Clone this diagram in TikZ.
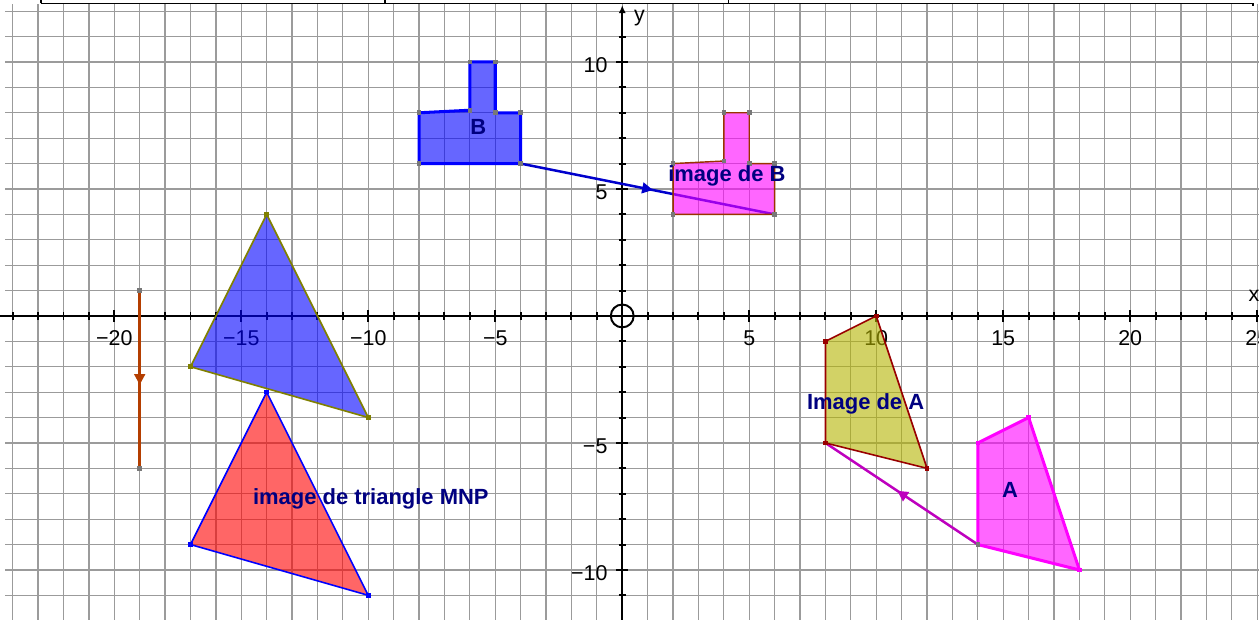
\documentclass[tikz,border=0pt]{standalone}
\usepackage{fontspec}
\setmainfont{Liberation Sans}
\usetikzlibrary{arrows.meta,decorations.markings}

\definecolor{luoi}{RGB}{155,155,155}
\definecolor{xanhdam}{RGB}{0,0,128}
\definecolor{diemxam}{RGB}{120,120,120}
\definecolor{oliu}{RGB}{128,128,0}
\definecolor{dodam}{RGB}{153,0,0}
\definecolor{nau}{RGB}{153,51,0}
\definecolor{camnau}{RGB}{180,62,0}
\definecolor{vecxanh}{RGB}{0,0,204}
\definecolor{vectim}{RGB}{190,0,190}
\definecolor{vangoliu}{RGB}{180,180,0}
\definecolor{hong}{RGB}{255,0,255}
\definecolor{xanh}{RGB}{0,0,255}
\definecolor{do}{RGB}{255,0,0}

\tikzset{
  truc/.style={line width=1.1pt},
  vecto/.style={line width=1.4pt, postaction={decorate},
    decoration={markings, mark=at position 0.5 with {\arrow[xshift=3pt]{Triangle[length=6pt,width=6pt]}}}},
  nhan/.style={font=\fontsize{12.3}{14}\selectfont\bfseries, text=xanhdam, inner sep=0pt},
  so/.style={font=\fontsize{12}{14}\selectfont, inner sep=0pt},
}

\begin{document}
\begin{tikzpicture}[x=0.5cm, y=0.5cm]
    \useasboundingbox (-24.5,-11.97) rectangle (25.07,12.44);
    \clip (-24.5,-11.97) rectangle (25.07,12.44);

    % Định nghĩa các điểm
    \coordinate (B1) at (-8,6);
    \coordinate (B2) at (-4,6);
    \coordinate (B3) at (-4,8);
    \coordinate (B4) at (-5,8);
    \coordinate (B5) at (-5,10);
    \coordinate (B6) at (-6,10);
    \coordinate (B7) at (-6,8.1);
    \coordinate (B8) at (-8,8);
    \coordinate (C1) at (2,4);
    \coordinate (C2) at (6,4);
    \coordinate (C3) at (6,6);
    \coordinate (C4) at (5,6);
    \coordinate (C5) at (5,8);
    \coordinate (C6) at (4,8);
    \coordinate (C7) at (4,6.1);
    \coordinate (C8) at (2,6);
    \coordinate (M) at (-14,4);
    \coordinate (N) at (-17,-2);
    \coordinate (P) at (-10,-4);
    \coordinate (Mi) at (-14,-3);
    \coordinate (Ni) at (-17,-9);
    \coordinate (Pi) at (-10,-11);
    \coordinate (A1) at (14,-5);
    \coordinate (A2) at (16,-4);
    \coordinate (A3) at (18,-10);
    \coordinate (A4) at (14,-9);
    \coordinate (D1) at (8,-1);
    \coordinate (D2) at (10,0);
    \coordinate (D3) at (12,-6);
    \coordinate (D4) at (8,-5);
    \coordinate (U) at (-19,1);
    \coordinate (V) at (-19,-6);

    % 1. Lưới ô vuông và thanh phía trên
    \foreach \x in {-24,...,25}
        \draw[luoi, line width=0.7pt] (\x,-12) -- (\x,12.3);
    \foreach \y in {-12,...,12}
        \draw[luoi, line width=0.7pt] (-24.3,\y) -- (25.1,\y);
    \draw[line width=0.8pt] (-22.89,12.31) -- (24.83,12.31) -- (24.83,12.2);
    \foreach \x in {-22.89,-9.34,4.19}
        \draw[line width=0.8pt] (\x,12.31) -- (\x,12.5);

    % 2. Hệ trục tọa độ
    \draw[truc, -{Latex[length=4.5pt,width=4pt]}] (-24.6,0) -- (25.4,0);
    \draw[truc, -{Latex[length=4.5pt,width=4pt]}] (0,-12.1) -- (0,12.24);
    \foreach \x in {-24,...,25}
        \draw[truc] (\x,-0.14) -- (\x,0.14);
    \foreach \x in {-20,-15,...,25}
        \draw[truc] (\x,-0.24) -- (\x,0.24);
    \foreach \y in {-11,...,11}
        \draw[truc] (-0.14,\y) -- (0.14,\y);
    \foreach \y in {-10,-5,5,10}
        \draw[truc] (-0.24,\y) -- (0.24,\y);
    \draw[truc] (0,0) circle (0.45);
    \foreach \x/\t in {-20/−20,-15/−15,-10/−10,-5/−5,5/5,10/10,15/15,20/20,25/25}
        \node[so, anchor=base] (sox\x) at (\x,-1.17) {\t};
    \foreach \y/\t in {10/10,5/5,-5/−5,-10/−10}
        \node[so, anchor=base east] (soy\y) at (-0.57,\y-0.42) {\t};
    \node[so, anchor=base west] (nhanx) at (24.65,0.56) {x};
    \node[so, anchor=base west] (nhany) at (0.45,11.6) {y};

    % 3. Các vectơ tịnh tiến
    \draw[vecto, color=vecxanh] (B2) -- (C2);
    \draw[vecto, color=camnau] (U) -- (V);
    \draw[vecto, color=vectim] (A4) -- (D4);

    % 4. Các hình và ảnh của chúng
    \filldraw[fill=xanh, fill opacity=0.6, draw=xanh, line width=1.7pt, line join=round]
        (B1) -- (B2) -- (B3) -- (B4) -- (B5) -- (B6) -- (B7) -- (B8) -- cycle;
    \filldraw[fill=hong, fill opacity=0.6, draw=nau, line width=0.8pt]
        (C1) -- (C2) -- (C3) -- (C4) -- (C5) -- (C6) -- (C7) -- (C8) -- cycle;
    \filldraw[fill=xanh, fill opacity=0.6, draw=oliu, line width=0.9pt] (M) -- (N) -- (P) -- cycle;
    \filldraw[fill=do, fill opacity=0.6, draw=xanh, line width=0.9pt] (Mi) -- (Ni) -- (Pi) -- cycle;
    \filldraw[fill=hong, fill opacity=0.6, draw=hong, line width=1.7pt, line join=round]
        (A1) -- (A2) -- (A3) -- (A4) -- cycle;
    \filldraw[fill=vangoliu, fill opacity=0.6, draw=dodam, line width=0.9pt]
        (D1) -- (D2) -- (D3) -- (D4) -- cycle;

    % 5. Các đỉnh
    \foreach \p in {B1,B2,B3,B4,B5,B6,B7,B8,C1,C2,C3,C4,C5,C6,C7,C8,U,V,A4}
        \fill[diemxam] (\p) ++(-0.09,-0.09) rectangle ++(0.18,0.18);
    \foreach \p in {M,N,P}
        \fill[oliu] (\p) ++(-0.09,-0.09) rectangle ++(0.18,0.18);
    \foreach \p in {Mi,Ni,Pi}
        \fill[xanh] (\p) ++(-0.09,-0.09) rectangle ++(0.18,0.18);
    \foreach \p in {A1,A2,A3}
        \fill[hong] (\p) ++(-0.09,-0.09) rectangle ++(0.18,0.18);
    \foreach \p in {D1,D2,D3,D4}
        \fill[dodam] (\p) ++(-0.09,-0.09) rectangle ++(0.18,0.18);

    % 6. Nhãn
    \node[nhan, anchor=base] (tenB) at (-5.67,7.13) {B};
    \node[nhan, anchor=base west] (tenanhB) at (1.80,5.31) {image de B};
    \node[nhan, anchor=base west] (tenanhMNP) at (-14.55,-7.44) {image de triangle MNP};
    \node[nhan, anchor=base west] (tenanhA) at (7.26,-3.70) {Image de A};
    \node[nhan, anchor=base] (tenA) at (15.27,-7.14) {A};
\end{tikzpicture}
\end{document}
